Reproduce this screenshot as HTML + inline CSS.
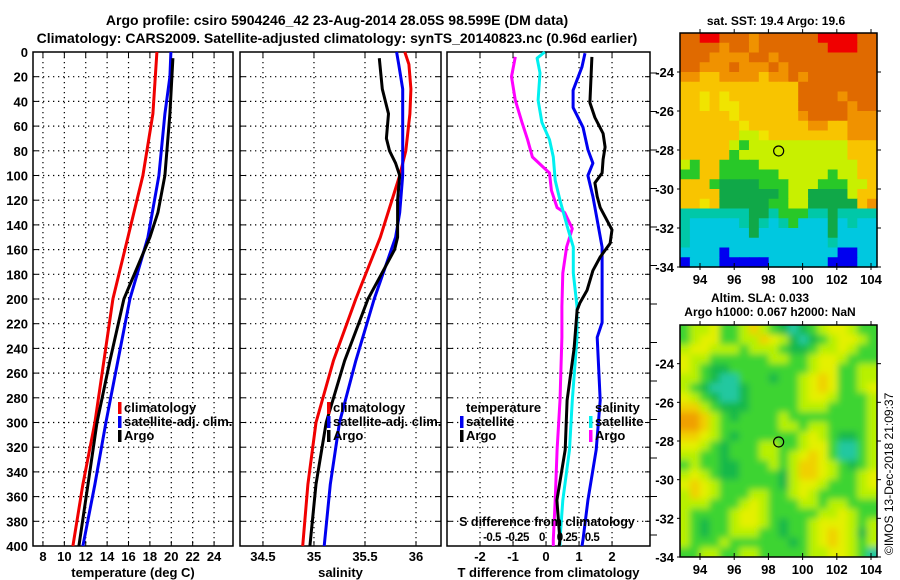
<!DOCTYPE html>
<html><head><meta charset="utf-8">
<style>
html,body{margin:0;padding:0;background:#fff;}
svg{display:block;font-family:"Liberation Sans",sans-serif;font-weight:bold;}
</style></head>
<body>
<svg id="c" width="900" height="580" viewBox="0 0 900 580" xmlns="http://www.w3.org/2000/svg">
<defs>
<filter id="blur" x="-5%" y="-5%" width="110%" height="110%"><feGaussianBlur stdDeviation="3.5"/></filter>
<clipPath id="clipSla"><rect x="680" y="325" width="197" height="232"/></clipPath>
</defs>
<text x="337" y="25" font-size="14" text-anchor="middle">Argo profile: csiro 5904246_42 23-Aug-2014 28.05S 98.599E (DM data)</text>
<text x="337" y="43" font-size="14" text-anchor="middle">Climatology: CARS2009. Satellite-adjusted climatology: synTS_20140823.nc (0.96d earlier)</text>
<text x="776" y="25" font-size="12" text-anchor="middle">sat. SST: 19.4 Argo: 19.6</text>
<text x="760" y="302" font-size="12" text-anchor="middle">Altim. SLA: 0.033</text>
<text x="770" y="316" font-size="12" text-anchor="middle">Argo h1000: 0.067 h2000: NaN</text>
<text transform="translate(893,555) rotate(-90)" font-size="12" font-weight="normal">©IMOS 13-Dec-2018 21:09:37</text>
</svg>
<script>
// ---------- data ----------
const depthTicks=[0,20,40,60,80,100,120,140,160,180,200,220,240,260,280,300,320,340,360,380,400];
const tTicks=[8,10,12,14,16,18,20,22,24];
const sTicks=[34.5,35,35.5,36];
const dTTicks=[-2,-1,0,1,2];
const dSTickLabels=["-0.5","-0.25","0","0.25","0.5"];
const dSTicks=[-0.5,-0.25,0,0.25,0.5];

const tClimDepth=[0,50,100,150,200,250,300,350,400];
const tClim=[18.65,18.28,17.35,15.94,14.54,13.70,12.86,11.74,10.80];
const tSatDepth=[0,20,50,100,150,200,250,300,350,400];
const tSat=[19.96,19.87,19.40,18.84,17.81,16.13,15.01,13.89,12.86,11.74];
const tArgoDepth=[5,20,50,100,130,150,200,250,300,350,400];
const tArgo=[20.15,20.06,19.87,19.40,18.75,18.0,15.57,14.26,13.05,12.21,11.36];

const sClimDepth=[0,10,30,50,80,100,150,200,250,300,350,400];
const sClim=[35.89,35.93,35.95,35.94,35.90,35.84,35.65,35.41,35.19,35.02,34.94,34.89];
const sSatDepth=[0,10,30,60,100,130,150,200,250,300,350,400];
const sSat=[35.81,35.83,35.87,35.87,35.87,35.84,35.80,35.59,35.41,35.25,35.16,35.10];
const sArgoDepth=[5,30,50,70,80,90,100,120,150,160,200,250,300,350,400];
const sArgo=[35.64,35.67,35.73,35.71,35.74,35.80,35.84,35.82,35.82,35.79,35.53,35.30,35.12,35.02,34.96];

const dTSatDepth=[1,12,31,45,61,79,90,100,117,136,158,179,219,231,282,322,363,395,400];
const dTSat=[1.18,1.09,0.82,0.82,1.12,1.27,1.42,1.27,1.42,1.55,1.70,1.70,1.70,1.55,1.64,1.52,1.27,1.12,1.09];
const dTArgoDepth=[4,41,53,66,77,87,98,106,117,126,144,155,166,177,193,203,209,240,282,322,363,395,400];
const dTArgo=[1.39,1.33,1.48,1.73,1.79,1.73,1.70,1.48,1.55,1.64,2.0,1.94,1.64,1.42,1.24,1.03,0.94,0.85,0.64,0.58,0.33,0.42,0.40];
const dSArgoDepth=[4,20,39,57,71,85,93,98,112,126,130,143,158,179,206,231,282,322,363,395,400];
const dSArgo=[-0.26,-0.30,-0.26,-0.19,-0.13,-0.08,0.03,0.10,0.12,0.18,0.26,0.34,0.28,0.24,0.23,0.23,0.21,0.18,0.16,0.14,0.14];
const dSSatDepth=[0,5,17,39,57,71,85,104,120,142,158,179,206,231,282,322,363,395,400];
const dSSat=[0.05,-0.03,0,-0.02,0.02,0.10,0.14,0.16,0.21,0.29,0.35,0.35,0.39,0.39,0.34,0.31,0.24,0.21,0.21];

const lonTicks=[94,96,98,100,102,104];
const latTicks=[-24,-26,-28,-30,-32,-34];
const argoLon=[98.599];
const argoLat=[-28.05];

const sstRows=[
"OORRO OOoOO OOOOR RRRO","OOOOo OOoOO OOOOO RRROO","OOOoo ooOOo OOOOO OOOOO","OOooo OoooO oOOOO OOOOO",
"ooYYo oooYo oOoOO OOOOO","YYYYY YYYYY YYOOO OOOOO","YYyYy YYYYY YYOOO OoOOO","YYyYy yYYYY YYOOO OOoOO",
"YYYYY yYYYY YYoOO OOooo","YYYYY YyYYY YYYoo YYooo","YYYYY YLLyY YYYYY YYooo","YYYYY LGLLL LLLLL LLYYY",
"YYYYY GLLLL LLLLL LLYYY","LGYYG GGGLL LLLLL LLLYY","GGYYG GGGGG LLLLL GLLYY","YYYGg gggGG GLLLG GGLLY",
"YYYYg ggggg GLLgg ggLYY","YYyYg ggggG GLLgg gggYo","TTTTT TTggT GGGTT gTTTT","TCCCC CTgTC TGCCC gCTCC",
"TCCCC CCgCC CCCCC gCCCC","TCCCC CCCCC CCCCC TCCCC","CCCCB CCCCC CCCCC CBBCC","BCCCB BBBBC CCCCC BBBCC"];
const slaRows=[
"GllyG GlYlG gtgGl yylG","GlyyG GllYy lgtgG lyylG","lyyll lGlll GggGl lylGG","yllGG GGGGl lGGly ylGG",
"ylGgg GGGGG GGGly yGGll","llGgt tGGGg GGlyY yGGll","lGgtt tgGGG GGlyY yGGly","ylGgt tgGGG GGlyy lGGGl",
"YYlGg ggGGG GGlll GGGGl","OOYlG gGGGG lGGGG GGGGl","OOYlG GGGGG llGll GGGGl","YYylG gGGGG GGlyl GggGl",
"yylGg GGGll GGlyy GttGl","llGGg GGGll GlyYy GttGl","GlGGg gGGGl GlYYy lGgGl","lylGg gGGGG glYYy lGGly",
"yYylG GGGGG glyyl GGGly","lYylG GGllG GlylG GGGll","lllGG GlylG GGllG llGGG","lGGGG lyylG GGGGl lylGG",
"lGgGG lyylG gGGly yylGl","lGgGG lllGG gGGly Yylgl","lGGGl GGGGG GgGly YylGl","GGllG GllGG GGGll yylGt"];
const sstColor={R:"#f00000",O:"#e06a00",o:"#f09200",Y:"#f8c400",y:"#f0e400",L:"#c8f000",G:"#28c828",g:"#10a848",T:"#00c8a8",C:"#00c8e0",B:"#0000f0"};
const slaColor={O:"#f0a000",Y:"#f0d000",y:"#e4f000",l:"#b8f000",G:"#3cd430",g:"#18b848",t:"#20c8a0"};

// ---------- drawing ----------
const svg=document.getElementById('c');
const NS="http://www.w3.org/2000/svg";
function mk(tag,attrs,parent){const e=document.createElementNS(NS,tag);for(const k in attrs)e.setAttribute(k,attrs[k]);(parent||svg).appendChild(e);return e;}
const Y0=52,Y1=546;
const yD=d=>Y0+(Y1-Y0)*d/400;
function panel(name,x0,x1,xmin,xmax){
  const g=mk('g',{});
  
  
  return {g,x0,x1,sx:v=>x0+(v-xmin)/(xmax-xmin)*(x1-x0)};
}
function frame(p,xt,xl,label){
  const {g,x0,x1,sx}=p;
  depthTicks.forEach(d=>{const y=yD(d);
    if(d>0&&d<400){const l=mk('line',{x1:x0,x2:x1,y1:y,y2:y,stroke:'#000','stroke-width':1.2,'stroke-dasharray':'1.3,3.7'},g);
      }
    mk('line',{x1:x0,x2:x0+5,y1:y,y2:y,stroke:'#000','stroke-width':1},g);
    mk('line',{x1:x1-5,x2:x1,y1:y,y2:y,stroke:'#000','stroke-width':1},g);
  });
  xt.forEach((v,i)=>{const x=sx(v);
    const l=mk('line',{x1:x,x2:x,y1:Y0,y2:Y1,stroke:'#000','stroke-width':1.2,'stroke-dasharray':'1.3,3.7'},g);
    
    mk('line',{x1:x,x2:x,y1:Y1-5,y2:Y1,stroke:'#000'},g);mk('line',{x1:x,x2:x,y1:Y0,y2:Y0+5,stroke:'#000'},g);
    const t=mk('text',{x:x,y:561,'font-size':13,'text-anchor':'middle'},g);t.textContent=xl[i];
    
  });
  const r=mk('rect',{x:x0,y:Y0,width:x1-x0,height:Y1-Y0,fill:'none',stroke:'#000','stroke-width':1.5},g);
  
  const t=mk('text',{x:(x0+x1)/2,y:577,'font-size':13,'text-anchor':'middle'},g);t.textContent=label;
  
}
function series(p,xs,ds,color,name,xf){
  const f=xf||p.sx;
  const pts=xs.map((v,i)=>f(v).toFixed(1)+','+yD(ds[i]).toFixed(1)).join(' ');
  const l=mk('polyline',{points:pts,fill:'none',stroke:color,'stroke-width':3,'stroke-linejoin':'round'},p.g);
  
}
function legend(g,x,y,color,txt,name){
  mk('rect',{x:x,y:y-10,width:3.5,height:12,fill:color},g);
  const t=mk('text',{x:x+6,y:y,'font-size':13},g);t.textContent=txt;
  
}
depthTicks.forEach(d=>{const t=mk('text',{x:28,y:yD(d)+5,'font-size':13,'text-anchor':'end'});t.textContent=d;
  });

// panel 1
const p1=panel('temperature-panel',33,233,7.07,25.77);
frame(p1,tTicks,tTicks.map(String),'temperature (deg C)');
series(p1,tClim,tClimDepth,'#f00000','temp-climatology-line');
series(p1,tSat,tSatDepth,'#0000f0','temp-satellite-line');
series(p1,tArgo,tArgoDepth,'#000','temp-argo-line');
legend(p1.g,118,412,'#f00000','climatology','legend-climatology');
legend(p1.g,118,426,'#0000f0','satellite-adj. clim.','legend-satellite');
legend(p1.g,118,440,'#000','Argo','legend-argo');

// panel 2
const p2=panel('salinity-panel',240,441,34.275,36.245);
frame(p2,sTicks,['34.5','35','35.5','36'],'salinity');
series(p2,sClim,sClimDepth,'#f00000','sal-climatology-line');
series(p2,sSat,sSatDepth,'#0000f0','sal-satellite-line');
series(p2,sArgo,sArgoDepth,'#000','sal-argo-line');
legend(p2.g,327,412,'#f00000','climatology','legend-climatology');
legend(p2.g,327,426,'#0000f0','satellite-adj. clim.','legend-satellite');
legend(p2.g,327,440,'#000','Argo','legend-argo');

// panel 3
const p3=panel('difference-panel',447,650,-3,3.15);
frame(p3,dTTicks,dTTicks.map(String),'T difference from climatology');
const sxS=v=>540+v*95;
const sxL=v=>542+v*100;
for(let y=73;y<Y1;y+=38.5){mk('line',{x1:650,x2:657,y1:y,y2:y,stroke:'#000'},p3.g);}
series(p3,dSArgo,dSArgoDepth,'#ff00ff','sdiff-argo-line',sxS);
series(p3,dSSat,dSSatDepth,'#00f0f0','sdiff-satellite-line',sxS);
series(p3,dTSat,dTSatDepth,'#0000f0','tdiff-satellite-line');
series(p3,dTArgo,dTArgoDepth,'#000','tdiff-argo-line');
(function(){const g=p3.g;
 const t=mk('text',{x:466,y:412,'font-size':13},g);t.textContent='temperature';
 
 legend(g,460,426,'#0000f0','satellite','legend-t-satellite');
 legend(g,460,440,'#000','Argo','legend-t-argo');
 const t2=mk('text',{x:595,y:412,'font-size':13},g);t2.textContent='salinity';
 
 legend(g,589,426,'#00f0f0','satellite','legend-s-satellite');
 legend(g,589,440,'#ff00ff','Argo','legend-s-argo');
 const t3=mk('text',{x:547,y:526,'font-size':12.5,'text-anchor':'middle'},g);t3.textContent='S difference from climatology';
 
 dSTicks.forEach((v,i)=>{const tt=mk('text',{x:sxL(v),y:541,'font-size':11.5,'letter-spacing':'-0.5','text-anchor':'middle'},g);tt.textContent=dSTickLabels[i];
  });
})();

// maps
function map(name,rows,colors,top,bottom,smooth){
  const x0=680,x1=877,lonMin=92.83,lonMax=104.35,latMax=-22,latMin=-34;
  const g=mk('g',{});
  
  const cg=mk('g',{},g);
  if(smooth){cg.setAttribute('clip-path','url(#clipSla)');}
  const ig=mk('g',smooth?{filter:'url(#blur)'}:{},cg);
  const mx=lon=>x0+(lon-lonMin)/(lonMax-lonMin)*(x1-x0);
  const my=lat=>top+(latMax-lat)/(latMax-latMin)*(bottom-top);
  const nr=rows.length, nc=20;
  rows.forEach((row,ri)=>{let cells=row.replace(/ /g,'');while(cells.length<nc)cells+=cells[cells.length-1];
    for(let ci=0;ci<nc;ci++){
      const la0=latMax-ri*(latMax-latMin)/nr, la1=latMax-(ri+1)*(latMax-latMin)/nr;
      const lo0=lonMin+ci*(lonMax-lonMin)/nc, lo1=lonMin+(ci+1)*(lonMax-lonMin)/nc;
      const ex=smooth?(ci===0?-8:0):0, ey=smooth?(ri===0?-8:0):0;
      const ew=smooth&&ci===nc-1?8:0, eh=smooth&&ri===nr-1?8:0;
      const r=mk('rect',{x:(mx(lo0)+ex).toFixed(2),y:(my(la0)+ey).toFixed(2),width:(mx(lo1)-mx(lo0)+0.6-ex+ew).toFixed(2),height:(my(la1)-my(la0)+0.6-ey+eh).toFixed(2),fill:colors[cells[ci]]},ig);
      
    }});
  mk('rect',{x:x0,y:top,width:x1-x0,height:bottom-top,fill:'none',stroke:'#000','stroke-width':1.5},g);
  lonTicks.forEach(l=>{const x=mx(l);mk('line',{x1:x,x2:x,y1:bottom-4,y2:bottom+3,stroke:'#000'},g);mk('line',{x1:x,x2:x,y1:top-4,y2:top,stroke:'#000'},g);
    const t=mk('text',{x:x,y:bottom+17,'font-size':13,'text-anchor':'middle'},g);t.textContent=l;
    });
  latTicks.forEach(l=>{const y=my(l);mk('line',{x1:x0-3,x2:x0,y1:y,y2:y,stroke:'#000'},g);mk('line',{x1:x1,x2:x1+4,y1:y,y2:y,stroke:'#000'},g);
    const t=mk('text',{x:x0-6,y:y+5,'font-size':13,'text-anchor':'end'},g);t.textContent=l;
    });
  const c=mk('circle',{cx:mx(argoLon[0]),cy:my(argoLat[0]),r:5,fill:'none',stroke:'#000','stroke-width':1.2},g);
  
}
map('sst-map',sstRows,sstColor,33,267,false);
map('sla-map',slaRows,slaColor,325,557,true);
</script>
</body></html>
